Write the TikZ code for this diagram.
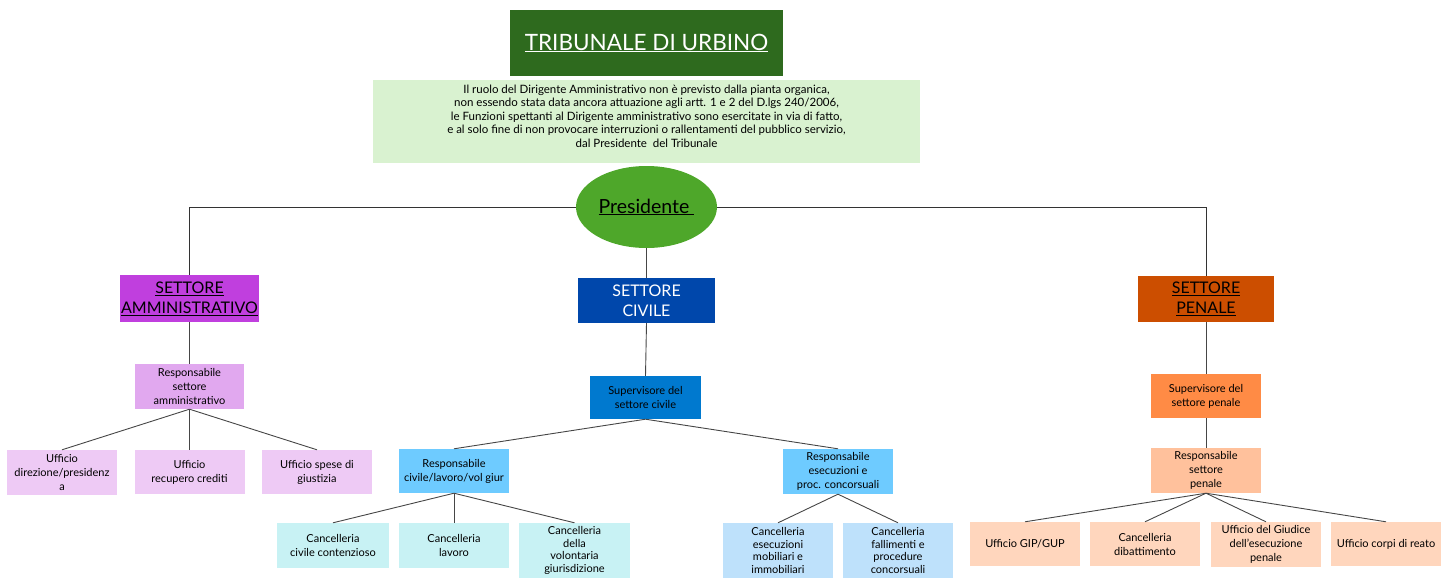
\documentclass[tikz,border=0pt]{standalone}
\usepackage{fontspec}
\setmainfont{Lato}
\usepackage{xcolor}
\usetikzlibrary{shapes.geometric}

% colori
\definecolor{titolo}{HTML}{2E6A1E}
\definecolor{nota}{HTML}{D9F2D0}
\definecolor{pres}{HTML}{4EA72A}
\definecolor{ammA}{HTML}{C03FDE}
\definecolor{ammB}{HTML}{E1A8EF}
\definecolor{ammC}{HTML}{EECAF5}
\definecolor{civA}{HTML}{0047AB}
\definecolor{civB}{HTML}{0079CF}
\definecolor{civC}{HTML}{6ECBFF}
\definecolor{civD}{HTML}{C8F2F4}
\definecolor{civE}{HTML}{BEE1FB}
\definecolor{penA}{HTML}{CC4E00}
\definecolor{penB}{HTML}{FF8B45}
\definecolor{penC}{HTML}{FFC19C}
\definecolor{penD}{HTML}{FFD6BD}

\tikzset{
  box/.style={rectangle, align=center, inner sep=1pt, minimum width=110pt,
    minimum height=44pt, font=\fontsize{11}{14}\selectfont},
  tallbox/.style={box, minimum height=55pt, font=\fontsize{11}{12.6}\selectfont},
  sector/.style={rectangle, align=center, inner sep=1pt, minimum height=46pt,
    font=\fontsize{16}{20}\selectfont},
  link/.style={draw=gray!55!black, line width=0.9pt},
}

\begin{document}
\begin{tikzpicture}[x=1pt, y=-1pt]
  \useasboundingbox (0,0) rectangle (1454,578);
  \clip (0,0) rectangle (1454,578);

  % testata
  \node[fill=titolo, text=white, minimum width=273pt, minimum height=66pt,
        font=\fontsize{22.5}{25}\selectfont] (title) at (646.5,43)
        {\underline{TRIBUNALE DI URBINO}};
  \node[fill=nota, minimum width=547pt, minimum height=83pt] (notebox) at (646.5,121.5) {};
  \node[align=center, font=\fontsize{11.5}{13.5}\selectfont] (notetxt) at (646.5,116)
    {Il ruolo del Dirigente Amministrativo non è previsto dalla pianta organica,\\
     non essendo stata data ancora attuazione agli artt. 1 e 2 del D.lgs 240/2006,\\
     le Funzioni spettanti al Dirigente amministrativo sono esercitate in via di fatto,\\
     e al solo fine di non provocare interruzioni o rallentamenti del pubblico servizio,\\
     dal Presidente\ \ del Tribunale};
  \node[ellipse, fill=pres, minimum width=141pt, minimum height=82pt, inner sep=0pt,
        font=\fontsize{19.5}{22}\selectfont] (presidente) at (646.5,207)
        {\underline{Presidente\ }};

  % settori
  \node[sector, fill=ammA, minimum width=139pt, minimum height=47pt] (amm) at (189.5,298.5)
    {\underline{SETTORE}\\\underline{AMMINISTRATIVO}};
  \node[sector, fill=civA, text=white, minimum width=137pt, minimum height=45pt] (civ) at (646.5,300.5)
    {SETTORE\\CIVILE};
  \node[sector, fill=penA, minimum width=136pt] (pen) at (1206,299)
    {\underline{SETTORE}\\\underline{PENALE}};

  % amministrativo
  \node[box, fill=ammB, minimum width=109pt, minimum height=45pt] (rAmm) at (189.5,386.5)
    {Responsabile\\settore\\amministrativo};
  \node[box, fill=ammC, minimum height=45pt] (uDir) at (62,472.5) {Ufficio\\direzione/presidenz\\a};
  \node[box, fill=ammC] (uRec) at (189.5,472) {Ufficio\\recupero crediti};
  \node[box, fill=ammC] (uSpe) at (317,472) {Ufficio spese di\\giustizia};

  % civile
  \node[box, fill=civB, minimum width=111pt, minimum height=43pt] (sCiv) at (645.5,397.5)
    {Supervisore del\\settore civile};
  \node[box, fill=civC] (rCiv) at (454,471) {Responsabile\\civile/lavoro/vol giur};
  \node[box, fill=civC, minimum height=45pt] (rEse) at (838,471.5)
    {Responsabile\\esecuzioni e\\proc. concorsuali};
  \node[box, fill=civD, minimum width=112pt, minimum height=45pt] (cCont) at (333,545.5)
    {Cancelleria\\civile contenzioso};
  \node[box, fill=civD, minimum height=45pt] (cLav) at (454,545.5) {Cancelleria\\lavoro};
  \node[tallbox, fill=civD, minimum width=111pt] (cVol) at (574.5,550.5)
    {Cancelleria\\della\\volontaria\\giurisdizione};
  \node[tallbox, fill=civE] (cEse) at (778,550.5)
    {Cancelleria\\esecuzioni\\mobiliari e\\immobiliari};
  \node[tallbox, fill=civE] (cFal) at (898,550.5)
    {Cancelleria\\fallimenti e\\procedure\\concorsuali};

  % penale
  \node[box, fill=penB] (sPen) at (1206,396) {Supervisore del\\settore penale};
  \node[box, fill=penC, minimum height=45pt] (rPen) at (1206,470.5) {Responsabile\\settore\\penale};
  \node[box, fill=penD] (uGip) at (1025,544) {Ufficio GIP/GUP};
  \node[box, fill=penD] (cDib) at (1145,544) {Cancelleria\\dibattimento};
  \node[box, fill=penD, minimum height=45pt] (uGiu) at (1266,544.5)
    {Ufficio del Giudice\\dell’esecuzione\\penale};
  \node[box, fill=penD] (uCor) at (1386,544) {Ufficio corpi di reato};

  % collegamenti
  \draw[link, draw=black!80] (presidente.west) -| (amm.north);
  \draw[link, draw=black!80] (presidente.east) -| (pen.north);
  \draw[link] (presidente.south) -- (civ.north);
  \draw[link] (amm.south) -- (rAmm.north);
  \foreach \n in {uDir,uRec,uSpe} \draw[link] (rAmm.south) -- (\n.north);
  \draw[link] (civ.south) -- (sCiv.north);
  \foreach \n in {rCiv,rEse} \draw[link] (sCiv.south) -- (\n.north);
  \foreach \n in {cCont,cLav,cVol} \draw[link] (rCiv.south) -- (\n.north);
  \foreach \n in {cEse,cFal} \draw[link] (rEse.south) -- (\n.north);
  \draw[link] (pen.south) -- (sPen.north);
  \draw[link] (sPen.south) -- (rPen.north);
  \foreach \n in {uGip,cDib,uGiu,uCor} \draw[link] (rPen.south) -- (\n.north);
\end{tikzpicture}
\end{document}
